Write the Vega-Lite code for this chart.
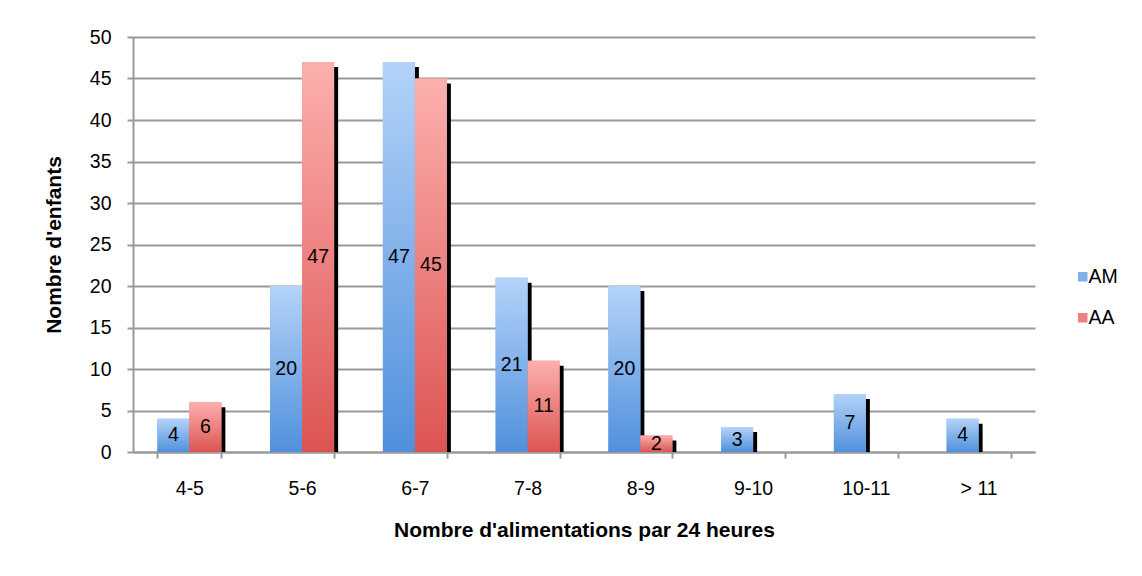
{
  "$schema": "https://vega.github.io/schema/vega-lite/v6.json",
  "width": 902,
  "height": 415,
  "autosize": {"type": "none"},
  "padding": {"left": 133, "top": 37, "right": 107, "bottom": 124},
  "background": "white",
  "config": {
    "font": "Liberation Sans",
    "view": {"stroke": null},
    "axis": {"labelColor": "black", "titleColor": "black", "labelFontSize": 19.5, "titleFontSize": 21, "titleFontWeight": "bold", "domainColor": "#999999", "domainWidth": 2, "tickColor": "#999999", "tickWidth": 2, "tickSize": 6, "gridColor": "#999999", "gridWidth": 2}
  },
  "data": {
    "values": [
      {"range": "4-5", "series": "AM", "n": 4},
      {"range": "4-5", "series": "AA", "n": 6},
      {"range": "5-6", "series": "AM", "n": 20},
      {"range": "5-6", "series": "AA", "n": 47},
      {"range": "6-7", "series": "AM", "n": 47},
      {"range": "6-7", "series": "AA", "n": 45},
      {"range": "7-8", "series": "AM", "n": 21},
      {"range": "7-8", "series": "AA", "n": 11},
      {"range": "8-9", "series": "AM", "n": 20},
      {"range": "8-9", "series": "AA", "n": 2},
      {"range": "9-10", "series": "AM", "n": 3},
      {"range": "10-11", "series": "AM", "n": 7},
      {"range": "> 11", "series": "AM", "n": 4}
    ]
  },
  "encoding": {
    "x": {
      "field": "range",
      "type": "nominal",
      "sort": ["4-5", "5-6", "6-7", "7-8", "8-9", "9-10", "10-11", "> 11"],
      "scale": {"paddingInner": 0.43237, "paddingOuter": 0.216186},
      "axis": {"title": "Nombre d'alimentations par 24 heures", "labelAngle": 0, "grid": false, "tickBand": "extent", "labelPadding": 21, "titlePadding": 22}
    }
  },
  "layer": [
    {
      "mark": {"type": "bar", "fill": "black", "yOffset": 5, "y2Offset": 0},
      "encoding": {
        "xOffset": {"field": "series", "type": "nominal", "scale": {"domain": ["AM", "AA"], "range": [4, 68]}},
        "y": {"field": "n", "type": "quantitative", "scale": {"domain": [0, 50], "nice": false}, "axis": null},
        "y2": {"datum": 0}
      }
    },
    {
      "mark": {"type": "bar"},
      "encoding": {
        "xOffset": {"field": "series", "type": "nominal", "scale": {"domain": ["AM", "AA"]}},
        "y": {
          "field": "n",
          "type": "quantitative",
          "scale": {"domain": [0, 50], "nice": false},
          "axis": {"title": "Nombre d'enfants", "values": [0, 5, 10, 15, 20, 25, 30, 35, 40, 45, 50], "grid": true, "labelPadding": 16, "titlePadding": 25}
        },
        "color": {
          "field": "series",
          "type": "nominal",
          "scale": {"domain": ["AM", "AA"], "range": ["#7fb0ec", "#ec8180"]},
          "legend": {"orient": "none", "legendX": 940, "legendY": 230, "title": null, "symbolType": "square", "symbolSize": 90, "symbolStrokeWidth": 0, "symbolOpacity": 1, "labelFontSize": 19.5, "labelColor": "black", "rowPadding": 20, "labelOffset": -4}
        }
      }
    },
    {
      "transform": [{"filter": "datum.series === 'AM'"}],
      "mark": {"type": "bar", "fill": {"gradient": "linear", "x1": 0, "y1": 0, "x2": 0, "y2": 1, "stops": [{"offset": 0, "color": "#b3d3f8"}, {"offset": 1, "color": "#5090dc"}]}},
      "encoding": {
        "xOffset": {"field": "series", "type": "nominal", "scale": {"domain": ["AM", "AA"]}},
        "y": {"field": "n", "type": "quantitative", "scale": {"domain": [0, 50], "nice": false}, "axis": null}
      }
    },
    {
      "transform": [{"filter": "datum.series === 'AA'"}],
      "mark": {"type": "bar", "fill": {"gradient": "linear", "x1": 0, "y1": 0, "x2": 0, "y2": 1, "stops": [{"offset": 0, "color": "#fcb0ae"}, {"offset": 1, "color": "#dc5452"}]}},
      "encoding": {
        "xOffset": {"field": "series", "type": "nominal", "scale": {"domain": ["AM", "AA"]}},
        "y": {"field": "n", "type": "quantitative", "scale": {"domain": [0, 50], "nice": false}, "axis": null}
      }
    },
    {
      "mark": {"type": "text", "fontSize": 19.5, "color": "black"},
      "encoding": {
        "xOffset": {"field": "series", "type": "nominal", "scale": {"domain": ["AM", "AA"]}},
        "y": {"field": "n", "type": "quantitative", "scale": {"domain": [0, 100], "nice": false}, "axis": null},
        "text": {"field": "n", "type": "quantitative"}
      }
    }
  ],
  "resolve": {"scale": {"y": "independent", "xOffset": "independent"}}
}
